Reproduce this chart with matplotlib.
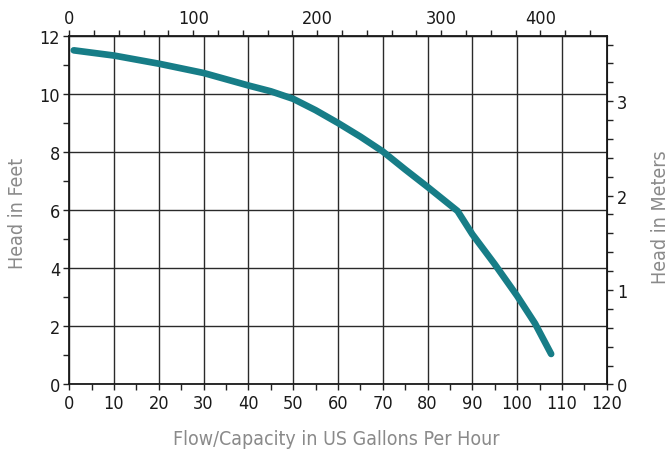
import matplotlib
matplotlib.use("Agg")
import matplotlib.pyplot as plt
from matplotlib import font_manager
import numpy as np

# pump curve
flow = [1, 10, 20, 30, 40, 45, 50, 55, 60, 65, 70, 75, 80, 86.7, 90, 95, 100, 104, 107.6]
head = [11.5, 11.32, 11.04, 10.72, 10.29, 10.09, 9.83, 9.44, 9.0, 8.53, 8.02, 7.40, 6.80, 5.97, 5.17, 4.14, 3.05, 2.1, 1.05]

x_ticks = list(range(0, 121, 10))
y_ticks = list(range(0, 13, 2))
top_labels = ["0", "100", "200", "300", "400"]
top_label_pos = [0, 100, 200, 300, 380]
m_ticks = [0, 1, 2, 3]

# look for a narrow face, the original uses a condensed font
narrow = [f for f in font_manager.fontManager.ttflist
          if ("Narrow" in f.name or "Condensed" in f.name or "Narrow" in f.fname or "Condensed" in f.fname)]
if narrow:
    fam = narrow[0].name
    stretch = narrow[0].stretch
else:
    fam = "DejaVu Sans"
    stretch = "normal"
plt.rcParams["font.family"] = [fam, "DejaVu Sans"]
plt.rcParams["font.stretch"] = stretch

fig = plt.figure(figsize=(6.68, 4.60), dpi=100)
ax = fig.add_axes([0.1037, 0.162, 0.9082 - 0.1037, 0.920 - 0.162])

ax.plot(flow, head, color="#177d87", lw=4.8, solid_capstyle="round", solid_joinstyle="round", zorder=3)

ax.set_xlim(0, 120)
ax.set_ylim(0, 12)
ax.set_xticks(x_ticks)
ax.set_xticks(np.arange(5, 120, 10), minor=True)
ax.set_yticks(y_ticks)
ax.set_yticks(np.arange(1, 12, 2), minor=True)
ax.grid(True, which="major", color="#2a2a2a", lw=1.0)
ax.set_axisbelow(True)

tick_kw = dict(direction="out", color="#222222", width=1.0, labelsize=13, labelcolor="#1a1a1a")
ax.tick_params(which="major", length=4.5, pad=2, **tick_kw)
ax.tick_params(which="minor", length=4, **tick_kw)
for s in ax.spines.values():
    s.set_linewidth(1.3)
    s.set_color("#1a1a1a")

k = 3.612
top = ax.secondary_xaxis("top", functions=(lambda x: x * k, lambda x: x / k))
top.set_xticks(top_label_pos, top_labels)
top.set_xticks(np.arange(0, 430, 20), minor=True)
top.tick_params(which="major", length=4.5, pad=2, **tick_kw)
top.tick_params(which="minor", length=4.5, **tick_kw)

ftm = 3.25
right = ax.secondary_yaxis("right", functions=(lambda y: y / ftm, lambda y: y * ftm))
right.set_yticks(m_ticks)
right.set_yticks(np.arange(0, 3.7, 0.2), minor=True)
right.tick_params(which="major", length=4.5, pad=3, **tick_kw)
right.tick_params(which="minor", length=4.5, **tick_kw)

lab_kw = dict(color="#8a8a8a", fontsize=14)
fig.text(18 / 668, 1 - 213 / 460, "Head in Feet", rotation=90, ha="center", va="center", **lab_kw)
fig.text(660 / 668, 1 - 217 / 460, "Head in Meters", rotation=90, ha="center", va="center", **lab_kw)
fig.text(336 / 668, 1 - 440 / 460, "Flow/Capacity in US Gallons Per Hour", ha="center", va="center", **lab_kw)

plt.savefig("out.png", dpi=100)
